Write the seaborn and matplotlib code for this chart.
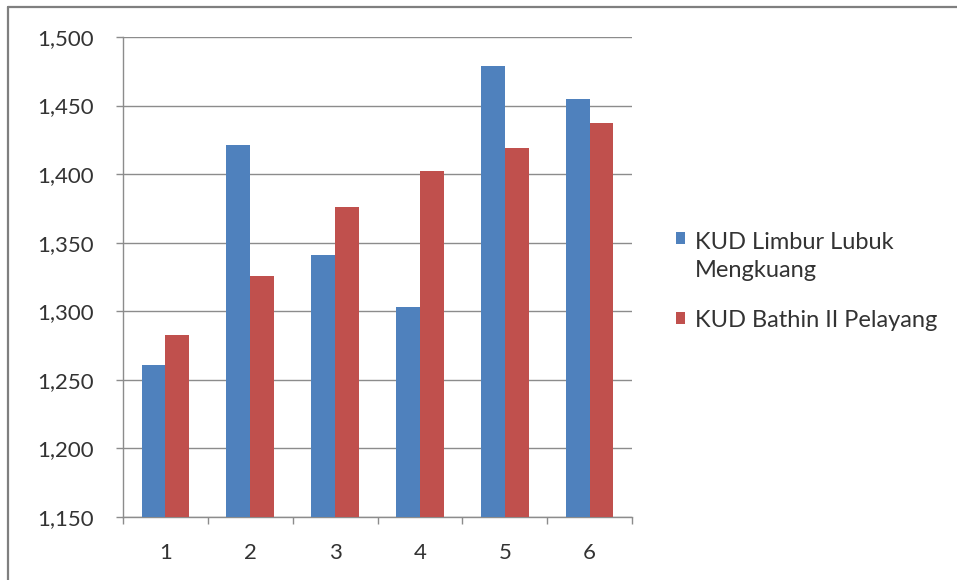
import matplotlib
matplotlib.use("Agg")
import matplotlib.pyplot as plt
from matplotlib.lines import Line2D
from matplotlib.patches import Rectangle
from matplotlib.legend_handler import HandlerPatch
from matplotlib.ticker import FuncFormatter, FixedLocator
import seaborn as sns
import pandas as pd

# Monthly figures for the two cooperatives
periods = ["1", "2", "3", "4", "5", "6"]
limbur_lubuk = [1261, 1421, 1341, 1303, 1479, 1455]
bathin_pelayang = [1283, 1326, 1376, 1402, 1419, 1437]
series_names = ["KUD Limbur Lubuk\nMengkuang", "KUD Bathin II Pelayang"]
y_ticks = [1150, 1200, 1250, 1300, 1350, 1400, 1450, 1500]

df = pd.DataFrame({
    "period": periods * 2,
    "value": limbur_lubuk + bathin_pelayang,
    "series": [series_names[0]] * len(periods) + [series_names[1]] * len(periods),
})

sns.set_style("white")
plt.rcParams["font.family"] = ["Lato", "DejaVu Sans"]

fig = plt.figure(figsize=(9.57, 5.80), dpi=100)
ax = fig.add_axes([123 / 957, 1 - 517 / 580, (632 - 123) / 957, (517 - 37) / 580])

palette = {series_names[0]: "#4F81BD", series_names[1]: "#C0504D"}
sns.barplot(data=df, x="period", y="value", hue="series", order=periods,
            hue_order=series_names, palette=palette, width=0.56, gap=0,
            saturation=1, linewidth=0, ax=ax, zorder=3)

grid_col = "#8C8C8C"
text_col = "#333333"
ax.set_ylim(1150, 1500)
ax.set_xlim(-0.5, len(periods) - 0.5)
ax.yaxis.set_major_locator(FixedLocator(y_ticks))
ax.yaxis.set_major_formatter(FuncFormatter(lambda v, p: f"{int(v):,}"))
ax.grid(axis="y", color=grid_col, linewidth=1.0, zorder=0)
ax.set_axisbelow(True)
ax.set_xlabel("")
ax.set_ylabel("")

for side in ["top", "right"]:
    ax.spines[side].set_visible(False)
for side in ["left", "bottom"]:
    ax.spines[side].set_color(grid_col)
    ax.spines[side].set_linewidth(1.0)

ax.tick_params(axis="y", length=5, width=1.0, color=grid_col, pad=16,
               labelsize=16, labelcolor=text_col, left=True)
ax.tick_params(axis="x", which="major", length=0, pad=19,
               labelsize=16, labelcolor=text_col)
ax.set_xticks([i - 0.5 for i in range(len(periods) + 1)], minor=True)
ax.tick_params(axis="x", which="minor", length=5, width=1.0, color=grid_col,
               bottom=True)

# Legend: the swatch of a two-line entry sits beside its first line
legend_size = 17
handles, labels = ax.get_legend_handles_labels()
ax.get_legend().remove()


def top_aligned_swatch(legend, orig_handle, xdescent, ydescent, width, height, fontsize):
    return Rectangle((-xdescent, -ydescent + 0.78 * fontsize), width, height)


leg = ax.legend(handles, labels, loc="upper left",
                bbox_to_anchor=(664 / 957, 1 - 220 / 580),
                bbox_transform=fig.transFigure, frameon=False, borderpad=0,
                fontsize=legend_size, handlelength=0.4, handleheight=0.4,
                handletextpad=0.4, labelspacing=1.2, labelcolor=text_col,
                handler_map={handles[0]: HandlerPatch(patch_func=top_aligned_swatch)})
for t in leg.get_texts():
    t.set_linespacing(1.45)

# Outer chart frame (top and left edges)
fig.add_artist(Line2D([8 / 957, 8 / 957], [0, 1 - 7 / 580], transform=fig.transFigure,
                      color="#7F7F7F", linewidth=1.6))
fig.add_artist(Line2D([8 / 957, 1], [1 - 7 / 580, 1 - 7 / 580], transform=fig.transFigure,
                      color="#7F7F7F", linewidth=1.6))

fig.savefig("out.png", dpi=100)
